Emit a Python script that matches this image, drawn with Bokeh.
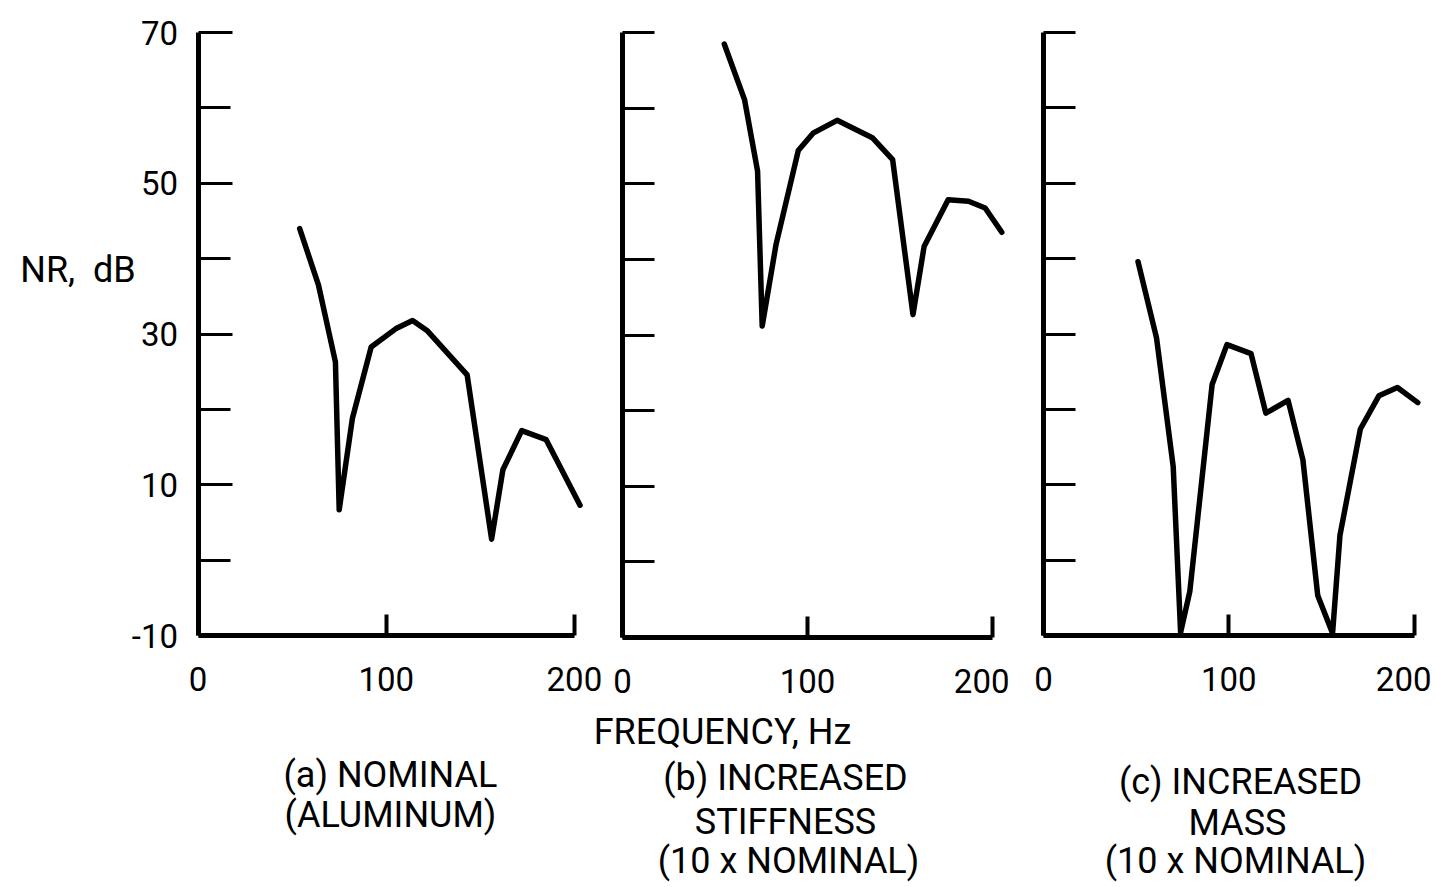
from bokeh.plotting import figure
from bokeh.layouts import row, column
from bokeh.models import Range1d, FixedTicker, ColumnDataSource
from bokeh.core.properties import value
from bokeh.embed import file_html
from bokeh.resources import INLINE

# ---- data ----
freq_a = [54, 64, 73, 75, 82, 92, 105, 114, 122, 143, 156, 162, 172, 185, 203]
nr_a = [44, 36.5, 26.3, 6.7, 18.8, 28.3, 30.7, 31.8, 30.4, 24.6, 2.8, 12, 17.2, 16, 7.3]

freq_b = [55, 66, 73, 75.5, 83, 95, 103, 116, 135, 146, 157, 163, 176, 187, 196, 205]
nr_b = [68.5, 61.1, 51.7, 31.2, 42, 54.4, 56.7, 58.4, 56.1, 53.2, 32.7, 41.7, 47.9, 47.7, 46.8, 43.6]

freq_c = [51, 61, 70, 74, 79, 91, 99, 112, 120, 132, 140, 148, 156, 160, 171, 181, 191, 202]
nr_c = [39.6, 29.5, 12.4, -9.6, -4.1, 23.3, 28.6, 27.4, 19.5, 21.2, 13.3, -4.7, -9.7, 3.3, 17.4, 21.8, 22.9, 20.9]

x_ticks = [0, 100, 200]
y_labeled_ticks = [-10, 10, 30, 50, 70]
y_unlabeled_ticks = [0, 20, 40, 60]
y_all_ticks = [-10, 0, 10, 20, 30, 40, 50, 60, 70]
y_label_text = {-10: "-10"}

y_title = "NR,\u00a0\u00a0dB"
x_title = "FREQUENCY, Hz"
captions_a = ["(a) NOMINAL", "(ALUMINUM)"]
captions_b = ["(b) INCREASED", "STIFFNESS", "(10 x NOMINAL)"]
captions_c = ["(c) INCREASED", "MASS", "(10 x NOMINAL)"]

FONT = "Roboto"
TICK_FS = "33px"
TEXT_FS = "36px"
ROW_H = 710
CAP_H = 173
PX_PER_DB = 7.54


def style_axes(p, labeled):
    xa = p.xaxis[0]
    xa.ticker = FixedTicker(ticks=x_ticks)
    xa.bounds = (0, 200)
    xa.axis_line_width = 5
    xa.axis_line_color = "black"
    xa.major_tick_in = 21
    xa.major_tick_out = 0
    xa.major_tick_line_width = 4
    xa.minor_tick_line_color = None
    xa.major_label_standoff = 31
    xa.major_label_text_font = FONT
    xa.major_label_text_font_size = TICK_FS
    xa.major_label_text_color = "black"

    ya = p.yaxis[0]
    if labeled:
        ya.ticker = FixedTicker(ticks=y_labeled_ticks, minor_ticks=y_unlabeled_ticks)
        ya.major_label_overrides = y_label_text
    else:
        ya.ticker = FixedTicker(ticks=[], minor_ticks=y_all_ticks)
    ya.bounds = (-10, 70)
    ya.axis_line_width = 5
    ya.axis_line_color = "black"
    ya.major_tick_in = 34
    ya.major_tick_out = 0
    ya.major_tick_line_width = 3
    ya.minor_tick_in = 32
    ya.minor_tick_out = 0
    ya.minor_tick_line_width = 3
    ya.minor_tick_line_color = "black"
    ya.major_label_standoff = 20
    ya.major_label_text_font = FONT
    ya.major_label_text_font_size = TICK_FS
    ya.major_label_text_color = "black"


def make_fig(xr, yr, fw, fh, left, top, right):
    p = figure(frame_width=fw, frame_height=fh, title=None,
               x_range=xr, y_range=yr,
               output_backend="svg", toolbar_location=None,
               min_border_left=left, min_border_top=top,
               min_border_right=right, min_border_bottom=ROW_H - top - fh)
    p.outline_line_color = None
    p.xgrid.visible = False
    p.ygrid.visible = False
    p.background_fill_color = "white"
    p.border_fill_color = "white"
    return p


# panel (a): frame widened to hold the y title and tick labels; axes pinned at x=0 / y=-10
pa = make_fig(Range1d(-105, 216), Range1d(-19, 72), 604, int(round(91 * PX_PER_DB)), 0, 10, 0)
style_axes(pa, True)
pa.yaxis[0].fixed_location = 0
pa.xaxis[0].fixed_location = -10
pa.line(freq_a, nr_a, line_width=5.5, line_color="black", line_join="round", line_cap="round")
pa.text(x=[-63.8], y=[38.5], text=[y_title], text_align="center", text_baseline="middle",
        text_font=value(FONT), text_font_size=TEXT_FS, text_color="black")

pb = make_fig(Range1d(0, 207), Range1d(-10, 72), 383, 620, 18, 12, 4)
style_axes(pb, False)
pb.line(freq_b, nr_b, line_width=5.5, line_color="black", line_join="round", line_cap="round")

pc = make_fig(Range1d(0, 204), Range1d(-10, 72), 378, 618, 34, 17, 10)
style_axes(pc, False)
pc.line(freq_c, nr_c, line_width=5.5, line_color="black", line_join="round", line_cap="round")

# caption strip below the panels
W = 1431
cap = figure(width=W, height=CAP_H, x_range=Range1d(0, W), y_range=Range1d(CAP_H, 0),
             x_axis_type=None, y_axis_type=None, output_backend="svg", title=None,
             toolbar_location=None, min_border=0)
cap.outline_line_color = None
cap.xgrid.visible = False
cap.ygrid.visible = False
cap_texts = [x_title] + captions_a + captions_b + captions_c
cap_x = [722, 390, 390, 785, 785, 788, 1240, 1237, 1235]
cap_y = [21, 64, 104, 67, 111, 150, 71, 112, 150]
cap.text(x="x", y="y", text="t", source=ColumnDataSource(dict(x=cap_x, y=cap_y, t=cap_texts)),
         text_align="center", text_baseline="middle",
         text_font=value(FONT), text_font_size=TEXT_FS, text_color="black")

layout = column(row(pa, pb, pc), cap)
open("out.html", "w").write(file_html(layout, INLINE))
